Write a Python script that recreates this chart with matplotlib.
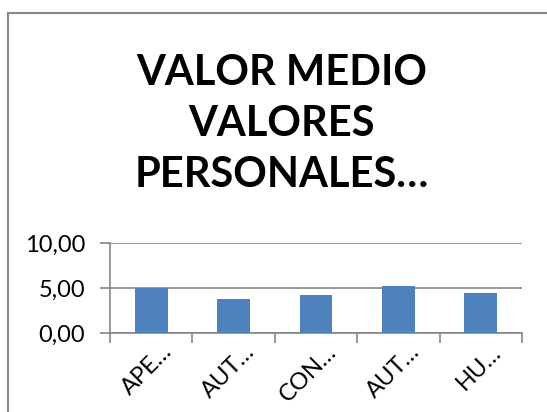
import matplotlib
matplotlib.use("Agg")
from matplotlib import pyplot as plt
from matplotlib.patches import Rectangle
from matplotlib.ticker import FuncFormatter
from matplotlib import transforms
import numpy as np

# data
categories = ["APE…", "AUT…", "CON…", "AUT…", "HU…"]
values = [5.0, 3.75, 4.2, 5.2, 4.5]
title = "VALOR MEDIO\nVALORES\nPERSONALES…"

grey = "#868686"
blue = "#4F81BD"
font = "Lato"

fig = plt.figure(figsize=(5.47, 4.12), dpi=100)

# outer chart frame (runs off the right and bottom edges)
fig.patches.append(Rectangle((8 / 547, -0.1), 1.2, 1.1 - 13 / 412,
                             transform=fig.transFigure, fill=False,
                             edgecolor=grey, linewidth=1.5))

fig.text(0.515, 1 - 124 / 412, title, ha="center", va="center",
         fontsize=30, fontweight="bold", family=font,
         linespacing=1.42)

ax = fig.add_axes([110 / 547, 1 - 333 / 412, (522 - 110) / 547, (333 - 243) / 412])
x = np.arange(len(categories))
ax.bar(x, values, width=0.4, color=blue, zorder=3)

ax.set_xlim(-0.5, len(categories) - 0.5)
ax.set_ylim(0, 10)
ax.set_yticks([0, 5, 10])
ax.yaxis.set_major_formatter(FuncFormatter(lambda v, p: f"{v:.2f}".replace(".", ",")))
ax.grid(axis="y", color=grey, linewidth=1.2, zorder=0)

ax.set_xticks(x)
ax.set_xticklabels(categories, rotation=45, ha="right", rotation_mode="anchor")
ax.set_xticks(np.arange(len(categories) + 1) - 0.5, minor=True)
ax.tick_params(axis="x", which="major", length=0, pad=8, labelsize=17)
ax.tick_params(axis="x", which="minor", length=7, color=grey, width=1.2)
ax.tick_params(axis="y", length=7, color=grey, width=1.2, labelsize=17, pad=11)

shift = transforms.ScaledTranslation(10 / 100, 3 / 100, fig.dpi_scale_trans)
for lab in ax.get_xticklabels():
    lab.set_family(font)
    lab.set_transform(lab.get_transform() + shift)
for lab in ax.get_yticklabels():
    lab.set_family(font)

for side in ["top", "right"]:
    ax.spines[side].set_visible(False)
for side in ["left", "bottom"]:
    ax.spines[side].set_color(grey)
    ax.spines[side].set_linewidth(1.2)

fig.savefig("out.png", dpi=100)
